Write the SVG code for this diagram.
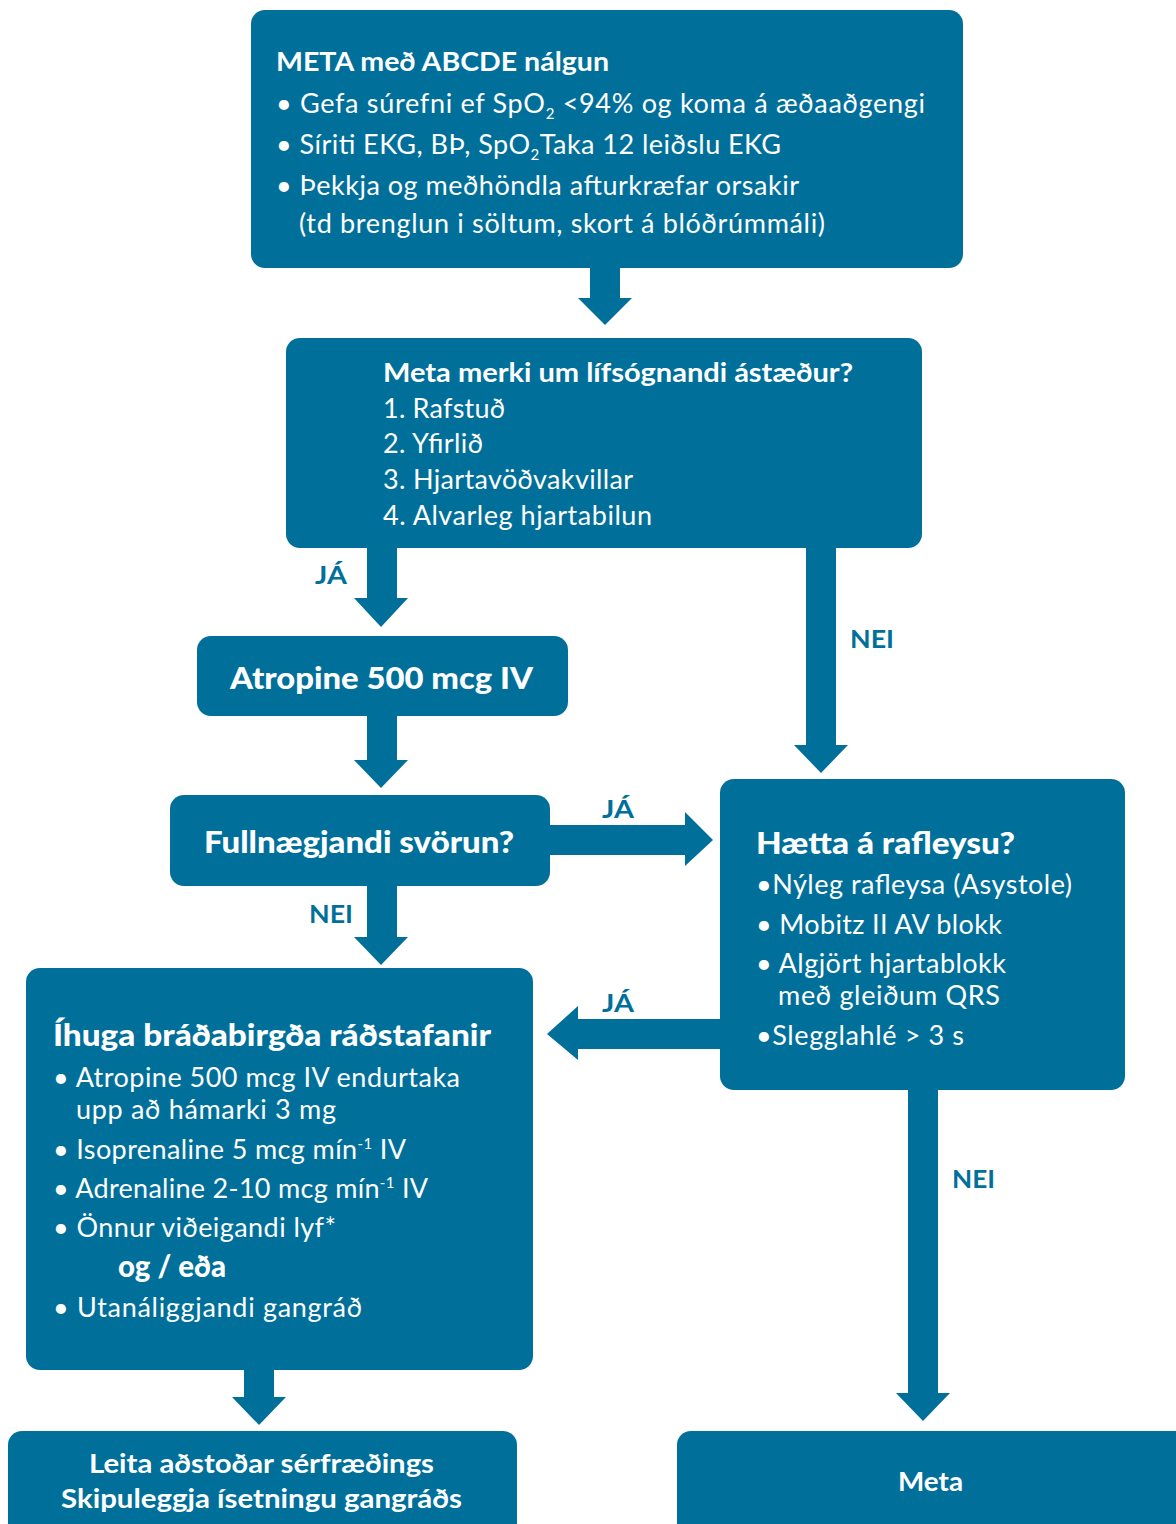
<svg xmlns="http://www.w3.org/2000/svg" width="1176" height="1524" viewBox="0 0 1176 1524">
<style>
.box{fill:#00709B}
.arr{fill:#00709B}
.t{font-family:Lato,"Open Sans","Liberation Sans",sans-serif;fill:#ffffff;font-size:27px}
.b{font-weight:bold}
.h{font-weight:900;font-size:30px}
.lbl{font-family:Lato,"Open Sans","Liberation Sans",sans-serif;fill:#00709B;font-size:24px;font-weight:bold}
.sub{font-size:15px}
</style>
<rect width="1176" height="1524" fill="#ffffff"/>
<g id="connectors">
<polygon class="arr" points="590,266 620,266 620,298 632,298 605,325 578,298 590,298"/>
<polygon class="arr" points="367,546 397,546 397,598 408,598 381,627 354,598 367,598"/>
<polygon class="arr" points="806,546 836,546 836,745 848,745 821,773 794,745 806,745"/>
<polygon class="arr" points="367,714 397,714 397,760 408,760 381,788 354,760 367,760"/>
<polygon class="arr" points="548,825 685,825 685,812 713,840 685,866 685,855 548,855"/>
<polygon class="arr" points="367,884 397,884 397,937 408,937 381,965 354,937 367,937"/>
<polygon class="arr" points="722,1019 578,1019 578,1006 547,1034 578,1060 578,1049 722,1049"/>
<polygon class="arr" points="908,1088 938,1088 938,1393 950,1393 923,1421 896,1393 908,1393"/>
<polygon class="arr" points="244,1368 274,1368 274,1397 286,1397 259,1425 232,1397 244,1397"/>
<text class="lbl" x="315" y="584" textLength="32" lengthAdjust="spacingAndGlyphs">JÁ</text>
<text class="lbl" x="850" y="648" textLength="44" lengthAdjust="spacingAndGlyphs">NEI</text>
<text class="lbl" x="602" y="818" textLength="32" lengthAdjust="spacingAndGlyphs">JÁ</text>
<text class="lbl" x="309" y="923" textLength="44" lengthAdjust="spacingAndGlyphs">NEI</text>
<text class="lbl" x="602" y="1012" textLength="32" lengthAdjust="spacingAndGlyphs">JÁ</text>
<text class="lbl" x="952" y="1188" textLength="43" lengthAdjust="spacingAndGlyphs">NEI</text>
</g>
<g id="n1">
<rect class="box" x="251" y="10" width="712" height="258" rx="14"/>
<text class="t b" x="276" y="71" font-size="26" textLength="333" lengthAdjust="spacingAndGlyphs">META með ABCDE nálgun</text>
<text class="t" x="276" y="113" textLength="649">• Gefa súrefni ef SpO<tspan class="sub" dy="6">2</tspan><tspan dy="-6"> &lt;94% og koma á æðaaðgengi</tspan></text>
<text class="t" x="276" y="154" textLength="505">• Síriti EKG, BÞ, SpO<tspan class="sub" dy="6">2</tspan><tspan dy="-6">Taka 12 leiðslu EKG</tspan></text>
<text class="t" x="276" y="195" textLength="523">• Þekkja og meðhöndla afturkræfar orsakir</text>
<text class="t" x="299" y="233" textLength="526">(td brenglun i söltum, skort á blóðrúmmáli)</text>
</g>
<g id="n2">
<rect class="box" x="286" y="338" width="636" height="210" rx="14"/>
<text class="t b" x="383" y="382" font-size="26" textLength="470" lengthAdjust="spacingAndGlyphs">Meta merki um lífsógnandi ástæður?</text>
<text class="t" x="383" y="418" textLength="122">1. Rafstuð</text>
<text class="t" x="383" y="453" textLength="100">2. Yfirlið</text>
<text class="t" x="383" y="489" textLength="250">3. Hjartavöðvakvillar</text>
<text class="t" x="383" y="525" textLength="269">4. Alvarleg hjartabilun</text>
</g>
<g id="n3">
<rect class="box" x="197" y="636" width="371" height="80" rx="14"/>
<text class="t h" x="230" y="689" textLength="303" lengthAdjust="spacingAndGlyphs">Atropine 500 mcg IV</text>
</g>
<g id="n4">
<rect class="box" x="170" y="795" width="380" height="91" rx="14"/>
<text class="t h" x="204" y="853" textLength="310" lengthAdjust="spacingAndGlyphs">Fullnægjandi svörun?</text>
</g>
<g id="n5">
<rect class="box" x="720" y="779" width="405" height="311" rx="14"/>
<text class="t h" x="756" y="854" font-size="29" textLength="259" lengthAdjust="spacingAndGlyphs">Hætta á rafleysu?</text>
<text class="t" x="756" y="894" textLength="316">•Nýleg rafleysa (Asystole)</text>
<text class="t" x="756" y="934" textLength="246">• Mobitz II AV blokk</text>
<text class="t" x="756" y="973" textLength="250">• Algjört hjartablokk</text>
<text class="t" x="778" y="1005" textLength="222">með gleiðum QRS</text>
<text class="t" x="756" y="1045" textLength="208">•Slegglahlé &gt; 3 s</text>
</g>
<g id="n6">
<rect class="box" x="26" y="968" width="507" height="402" rx="14"/>
<text class="t h" x="53" y="1046" textLength="438" lengthAdjust="spacingAndGlyphs">Íhuga bráðabirgða ráðstafanir</text>
<text class="t" x="53" y="1087" textLength="407">• Atropine 500 mcg IV endurtaka</text>
<text class="t" x="76" y="1119" textLength="260">upp að hámarki 3 mg</text>
<text class="t" x="53" y="1159" textLength="353">• Isoprenaline 5 mcg mín<tspan class="sub" dy="-10">-1</tspan><tspan dy="10"> IV</tspan></text>
<text class="t" x="53" y="1198" textLength="375">• Adrenaline 2-10 mcg mín<tspan class="sub" dy="-10">-1</tspan><tspan dy="10"> IV</tspan></text>
<text class="t" x="53" y="1237" textLength="283">• Önnur viðeigandi lyf*</text>
<text class="t h" x="118" y="1277" font-size="27" textLength="108" lengthAdjust="spacingAndGlyphs">og / eða</text>
<text class="t" x="53" y="1317" textLength="309">• Utanáliggjandi gangráð</text>
</g>
<g id="n7">
<rect class="box" x="8" y="1431" width="509" height="110" rx="14"/>
<text class="t b" x="89" y="1473" font-size="25" textLength="345" lengthAdjust="spacingAndGlyphs">Leita aðstoðar sérfræðings</text>
<text class="t b" x="61" y="1508" font-size="25" textLength="401" lengthAdjust="spacingAndGlyphs">Skipuleggja ísetningu gangráðs</text>
</g>
<g id="n8">
<rect class="box" x="677" y="1431" width="520" height="110" rx="14"/>
<text class="t b" x="898" y="1491" font-size="25" textLength="65" lengthAdjust="spacingAndGlyphs">Meta</text>
</g>
</svg>
